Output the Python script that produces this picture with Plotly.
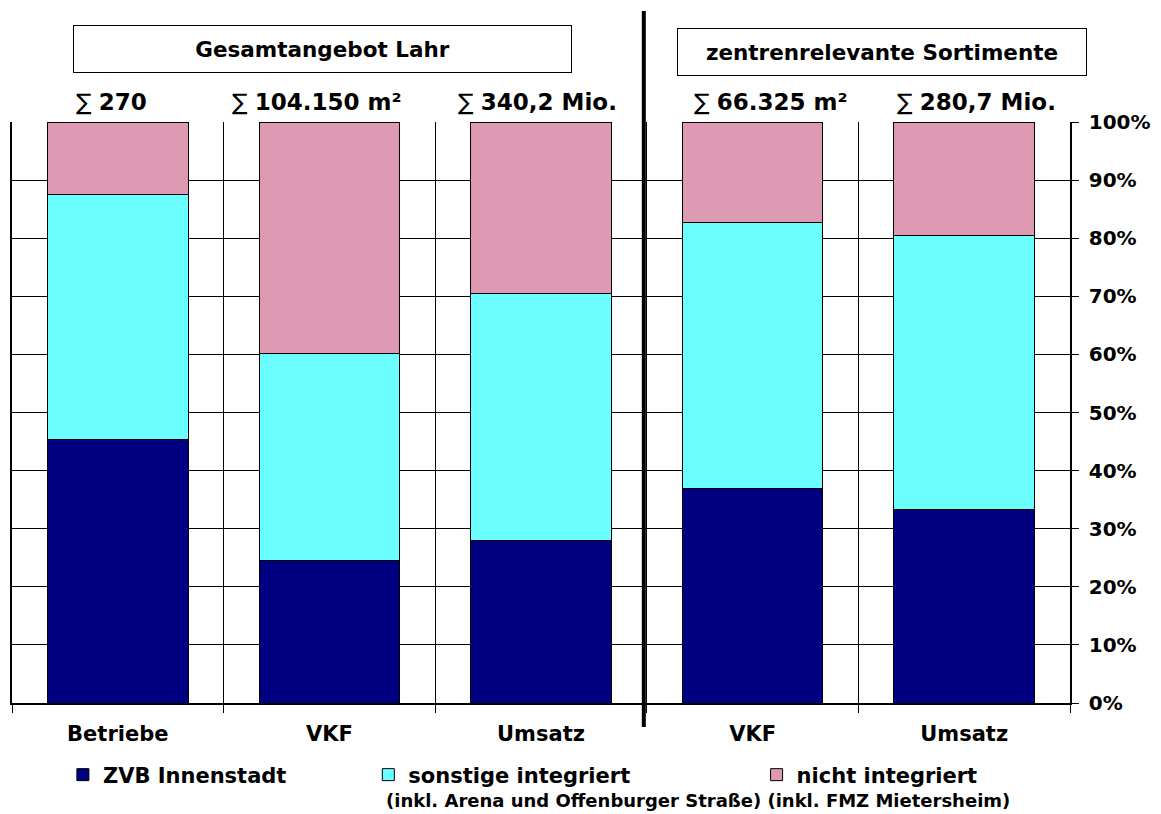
import plotly.graph_objects as go

# categories (ids kept unique, labels can repeat)
cat_ids = ["ges_betriebe", "ges_vkf", "ges_umsatz", "zr_vkf", "zr_umsatz"]
cat_labels = ["Betriebe", "VKF", "Umsatz", "VKF", "Umsatz"]
sum_labels = ["270", "104.150 m²", "340,2 Mio.", "66.325 m²", "280,7 Mio."]

# shares in percent
zvb = [45.3, 24.6, 27.9, 36.9, 33.3]
sonstige = [42.2, 35.5, 42.5, 45.8, 47.1]
nicht = [12.5, 39.9, 29.6, 17.3, 19.6]

series = [
    ("ZVB Innenstadt", zvb, "#000080", "legend"),
    ("sonstige integriert", sonstige, "#6BFFFF", "legend2"),
    ("nicht integriert", nicht, "#DF9AB3", "legend3"),
]

FONT = "DejaVu Sans"
OFF = 8  # the page puts the plot div 8px in from the top left
W, H = 1161 - OFF, 814 - OFF
# plot area in screen pixels: x 10..1070, y 122..703
L, T = 10 - OFF, 122 - OFF
R, B = W - (1070 - OFF), H - (703 - OFF)
pw = W - L - R
ph = H - T - B


def px_x(x):
    return (x - OFF - L) / pw


def px_y(y):
    return (H - B - (y - OFF)) / ph


fig = go.Figure()
for name, vals, col, leg in series:
    fig.add_trace(go.Bar(
        x=cat_ids, y=vals, name=name, legend=leg,
        marker=dict(color=col, line=dict(color="black", width=1)),
        hovertemplate=f"%{{x}}<br>{name}: %{{y:.1f}}%<extra></extra>",
    ))

label_shift = [-6, -12, -4, 18, 12]
annotations = []
for cid, lab, dx in zip(cat_ids, sum_labels, label_shift):
    annotations.append(dict(
        x=cid, xref="x", y=1, yref="paper", yanchor="bottom", yshift=5, xshift=dx,
        text=f"∑ <b>{lab}</b>", showarrow=False,
        font=dict(family=FONT, size=23, color="black"),
    ))

# group boxes
box_font = dict(family=FONT, size=21.5, color="black", weight="bold")
annotations.append(dict(
    x=px_x(321), y=px_y(49), xref="paper", yref="paper",
    xanchor="center", yanchor="middle",
    text="Gesamtangebot Lahr", showarrow=False,
    width=495, height=44, bordercolor="black", borderwidth=1, bgcolor="white",
    font=box_font,
))
annotations.append(dict(
    x=px_x(882), y=px_y(52), xref="paper", yref="paper",
    xanchor="center", yanchor="middle",
    text="zentrenrelevante Sortimente", showarrow=False,
    width=406, height=44, bordercolor="black", borderwidth=1, bgcolor="white",
    font=box_font,
))
annotations.append(dict(
    x=px_x(383), y=px_y(800), xref="paper", yref="paper",
    xanchor="left", yanchor="middle",
    text="(inkl. Arena und Offenburger Straße) (inkl. FMZ Mietersheim)",
    showarrow=False, font=dict(family=FONT, size=18, color="black", weight="bold"),
))

legend_style = dict(
    orientation="h", yanchor="middle", xanchor="left",
    font=dict(family=FONT, size=21, color="black", weight="bold"),
    bgcolor="rgba(0,0,0,0)", itemwidth=30,
)

fig.update_layout(
    width=W, height=H,
    margin=dict(l=L, r=R, t=T, b=B),
    paper_bgcolor="white", plot_bgcolor="white",
    barmode="stack", bargap=0.335,
    font=dict(family=FONT, color="black"),
    annotations=annotations,
    showlegend=True,
    legend=dict(legend_style, x=px_x(61), y=px_y(775)),
    legend2=dict(legend_style, x=px_x(367), y=px_y(775)),
    legend3=dict(legend_style, x=px_x(756), y=px_y(775)),
    shapes=[dict(
        type="line", xref="paper", yref="paper",
        x0=px_x(643), x1=px_x(643), y0=px_y(727), y1=px_y(11),
        line=dict(color="black", width=4),
    )],
)
fig.update_xaxes(
    tickmode="array", tickvals=cat_ids, ticktext=cat_labels,
    tickson="boundaries", ticks="outside", ticklen=8, tickcolor="black",
    showgrid=True, gridcolor="black", gridwidth=1,
    showline=True, linecolor="black", linewidth=1.5,
    tickfont=dict(family=FONT, size=21, color="black", weight="bold"),
    ticklabelstandoff=11,
)
fig.update_yaxes(
    side="right", range=[0, 100], dtick=10, ticksuffix="%",
    ticks="outside", ticklen=7, tickcolor="black",
    showgrid=True, gridcolor="black", gridwidth=1,
    showline=True, linecolor="black", linewidth=1.5, mirror=True,
    tickfont=dict(family=FONT, size=20, color="black", weight="bold"),
    zeroline=False, ticklabelstandoff=6,
)
fig.write_html("out.html")
